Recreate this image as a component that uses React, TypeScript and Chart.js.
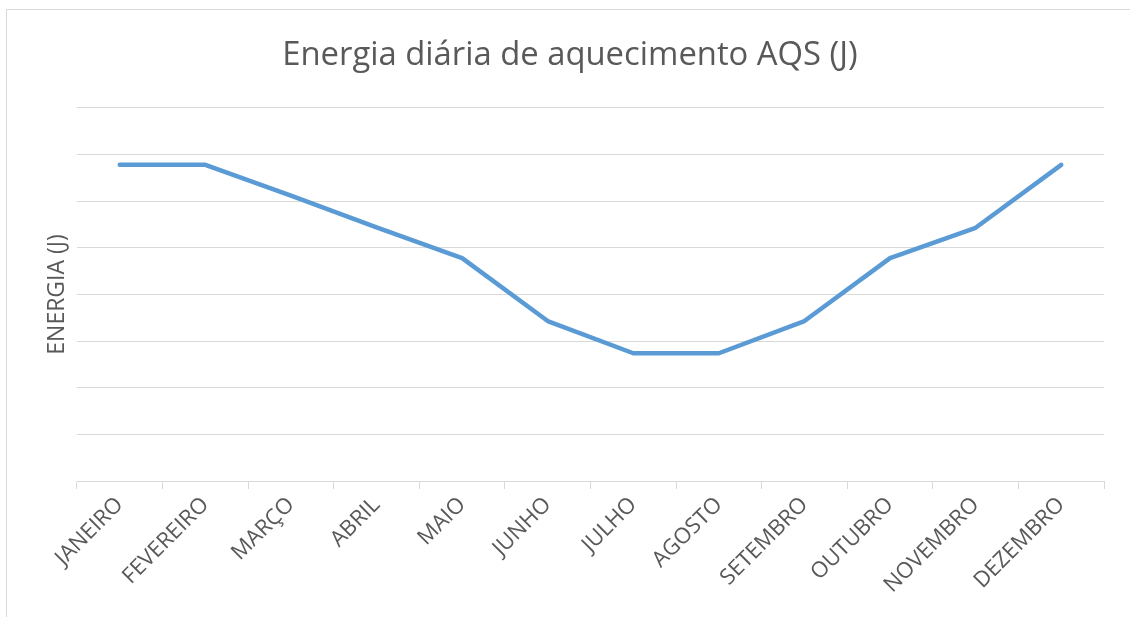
import React, { useEffect, useRef } from "react";
import { Chart, registerables } from "chart.js";

Chart.register(...registerables);

const months = [
  "JANEIRO", "FEVEREIRO", "MARÇO", "ABRIL", "MAIO", "JUNHO",
  "JULHO", "AGOSTO", "SETEMBRO", "OUTUBRO", "NOVEMBRO", "DEZEMBRO",
];
const energy = [6.78, 6.78, 6.12, 5.44, 4.78, 3.43, 2.74, 2.74, 3.43, 4.78, 5.43, 6.78];
const yMin = 0;
const yMax = 8;
const yStep = 1;

const titleText = "Energia diária de aquecimento AQS (J)";
const yTitleText = "ENERGIA (J)";

const FONT = "'Open Sans', sans-serif";
const TEXT = "#595959";
const GRID = "#D9D9D9";

export default function App() {
  const ref = useRef<HTMLCanvasElement | null>(null);

  useEffect(() => {
    if (!ref.current) return;
    const chart = new Chart(ref.current, {
      type: "line",
      data: {
        labels: months,
        datasets: [
          {
            data: energy,
            borderColor: "#5B9BD5",
            backgroundColor: "#5B9BD5",
            borderWidth: 4.5,
            borderCapStyle: "round",
            borderJoinStyle: "round",
            pointRadius: 0,
            pointHoverRadius: 0,
            tension: 0,
            fill: false,
          },
        ],
      },
      options: {
        responsive: false,
        animation: false,
        layout: { padding: { left: 36, right: 26, top: 0, bottom: 0 } },
        plugins: {
          legend: { display: false },
          tooltip: { enabled: false },
          title: {
            display: true,
            text: titleText,
            color: TEXT,
            font: { family: FONT, size: 32.8, weight: "normal" },
            padding: { top: 36, bottom: 32.6 },
          },
        },
        scales: {
          x: {
            offset: true,
            grid: {
              offset: true,
              drawOnChartArea: false,
              drawTicks: true,
              tickLength: 8,
              color: GRID,
              lineWidth: 1,
            },
            border: { display: true, color: GRID, width: 1 },
            ticks: {
              autoSkip: false,
              minRotation: 45,
              maxRotation: 45,
              color: TEXT,
              padding: 3,
              font: { family: FONT, size: 22 },
            },
            afterFit: (scale: any) => {
              scale.height = 136;
            },
          },
          y: {
            min: yMin,
            max: yMax,
            ticks: { display: false, stepSize: yStep },
            grid: { color: GRID, lineWidth: 1, drawTicks: false },
            border: { display: false },
            title: {
              display: true,
              text: yTitleText,
              color: TEXT,
              font: { family: FONT, size: 23 },
              padding: { top: 7.7, bottom: 0 },
            },
            afterFit: (scale: any) => {
              scale.width = 41;
            },
          },
        },
      },
    });
    return () => chart.destroy();
  }, []);

  return (
    <div
      style={{
        position: "absolute",
        left: 0,
        top: 0,
        width: 1130,
        height: 617,
        overflow: "hidden",
        background: "#fff",
      }}
    >
      <div
        style={{
          position: "absolute",
          left: 6,
          top: 9,
          width: 1200,
          height: 700,
          border: "1px solid #D9D9D9",
        }}
      />
      <canvas
        ref={ref}
        width={1130}
        height={617}
        style={{ position: "absolute", left: 0, top: 0, display: "block" }}
      />
    </div>
  );
}
